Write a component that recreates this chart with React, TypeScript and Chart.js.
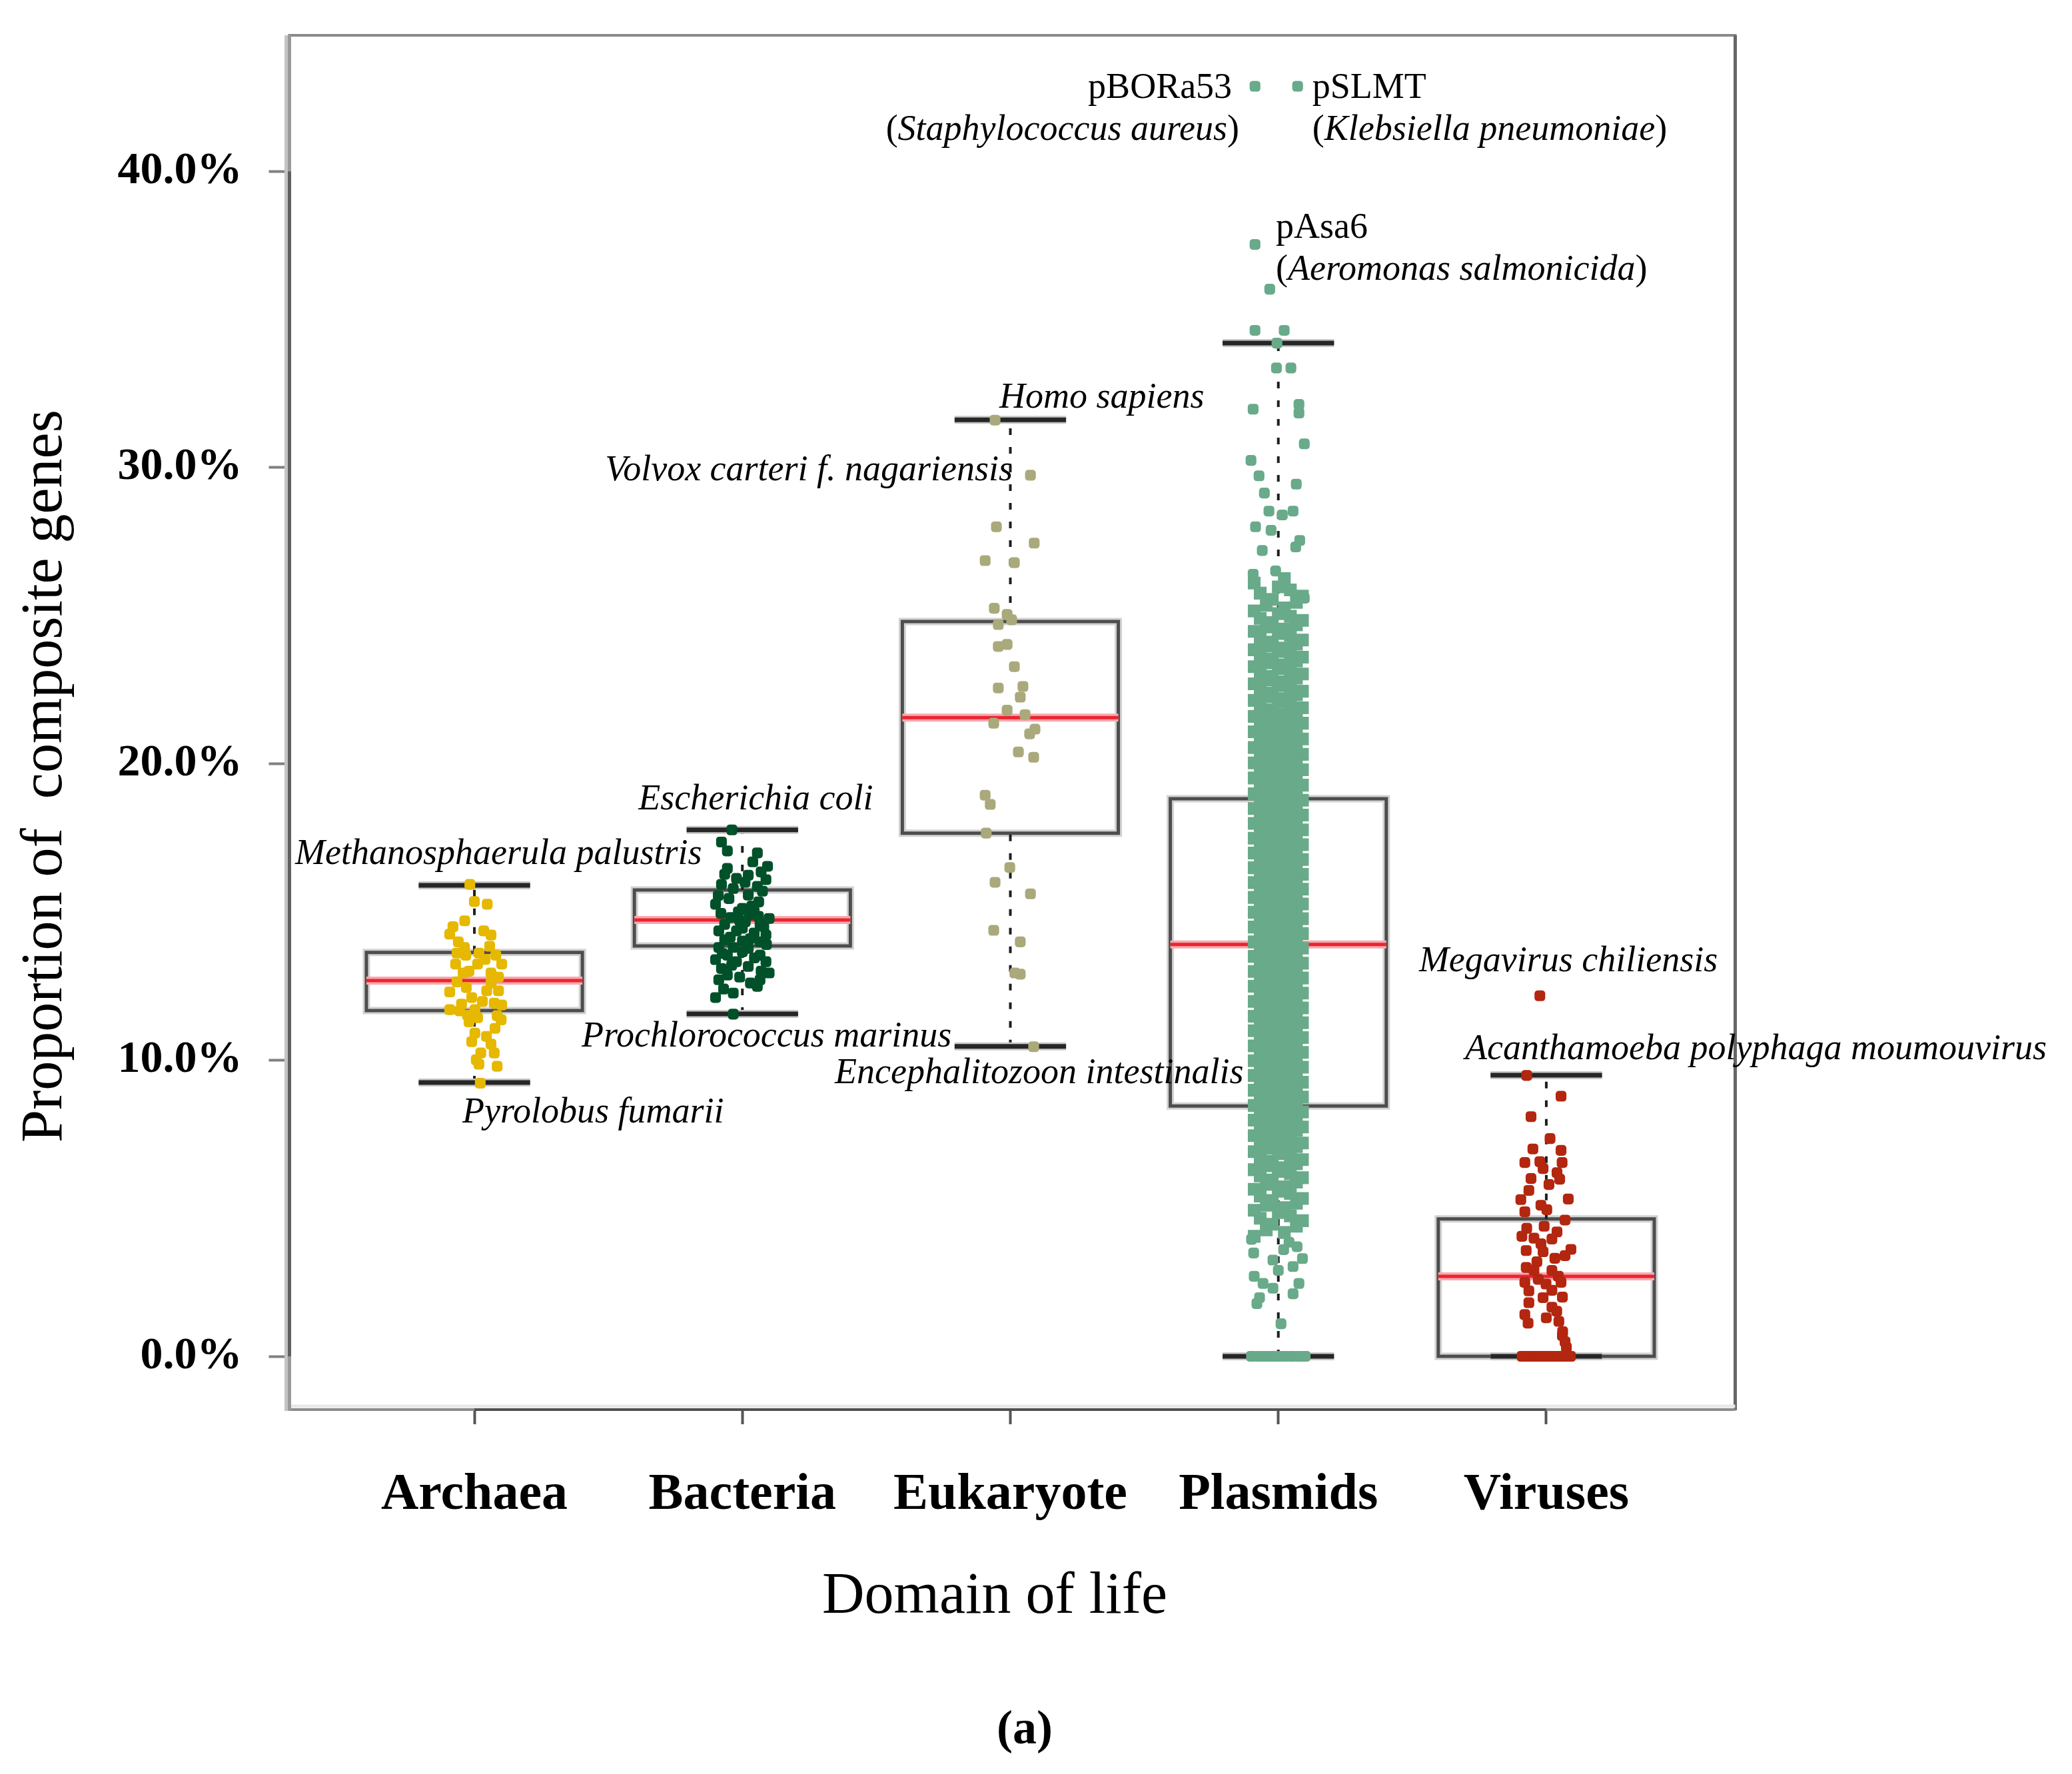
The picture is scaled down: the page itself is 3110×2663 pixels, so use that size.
import React, { useEffect, useRef } from 'react';
import { Chart, registerables } from 'chart.js';

Chart.register(...registerables);

// ---------------- data ----------------
const CATEGORIES = ['Archaea', 'Bacteria', 'Eukaryote', 'Plasmids', 'Viruses'];
const WHISKER_LOW = [9.24, 11.56, 10.46, 0, 0];
const Q1 = [11.67, 13.85, 17.66, 8.45, 0];
const MEDIAN = [12.68, 14.73, 21.56, 13.9, 2.7];
const Q3 = [13.63, 15.74, 24.8, 18.82, 4.64];
const WHISKER_HIGH = [15.9, 17.77, 31.61, 34.2, 9.49];
const Y_TICKS = [0, 10, 20, 30, 40];

// [value %, horizontal jitter in category units]
const ARCHAEA_POINTS: [number, number][] = [
  [15.93, -0.017], [15.35, 0], [15.26, 0.048], [14.7, -0.036], [14.5, -0.08], [14.25, -0.092], [14.36, 0.035],
  [14.22, 0.062], [13.99, -0.06], [13.8, -0.037], [13.84, 0.057], [13.61, -0.065], [13.54, -0.032], [13.61, 0.017],
  [13.54, 0.08], [13.4, 0.04], [13.24, -0.07], [13.24, 0.012], [13.24, 0.102], [13.0, -0.02], [12.94, -0.042],
  [12.94, 0.062], [12.8, 0.09], [12.64, -0.065], [12.6, 0.062], [12.45, -0.03], [12.3, -0.092], [12.34, 0.046],
  [12.34, 0.09], [12.11, -0.01], [11.98, 0.03], [11.89, -0.048], [11.92, 0.074], [11.86, 0.102], [11.7, -0.092],
  [11.66, -0.055], [11.7, 0.002], [11.52, -0.026], [11.5, 0.085], [11.43, 0.012], [11.36, 0.1], [11.29, -0.02],
  [11.07, 0.077], [10.91, 0.002], [10.8, 0.045], [10.62, -0.01], [10.54, 0.062], [10.24, 0.024], [10.24, 0.074],
  [10.01, 0.007], [9.86, 0.017], [9.79, 0.085], [9.22, 0.022],
];

const BACTERIA_POINTS: [number, number][] = [
  [17.77, -0.039], [17.36, -0.078], [17.06, -0.056], [16.99, 0.056], [16.69, 0.039], [16.54, 0.094], [16.47, -0.056],
  [16.35, 0.07], [16.27, -0.066], [16.24, 0.022], [16.13, -0.022], [16.09, 0.088], [16.0, 0.01], [15.93, -0.078],
  [15.86, 0.056], [15.79, -0.034], [15.7, 0.075], [15.57, 0.022], [15.55, -0.09], [15.45, -0.05], [15.34, 0.061],
  [15.26, -0.1], [15.2, 0.035], [15.12, 0], [15.03, 0.044], [15.0, -0.015], [14.95, -0.08], [14.9, 0.025],
  [14.85, 0.06], [14.81, -0.044], [14.78, 0.1], [14.7, -0.01], [14.67, 0.011], [14.58, -0.066], [14.58, 0.066],
  [14.5, 0.08], [14.45, 0.0], [14.36, -0.088], [14.36, -0.022], [14.29, 0.044], [14.22, 0.088], [14.15, -0.045],
  [14.1, 0.03], [14.06, -0.066], [14.02, 0], [13.99, 0.066], [13.9, 0.09], [13.8, -0.088], [13.8, -0.034],
  [13.77, 0.022], [13.65, 0.0], [13.6, -0.075], [13.54, -0.056], [13.54, 0.066], [13.45, 0.045], [13.39, -0.1],
  [13.32, -0.022], [13.32, 0.088], [13.2, -0.04], [13.16, 0.022], [13.09, -0.078], [13.0, 0.07], [12.94, 0.1],
  [12.87, -0.056], [12.8, -0.01], [12.71, -0.088], [12.71, 0.066], [12.6, 0.03], [12.49, 0.056], [12.4, -0.07],
  [12.26, -0.034], [12.11, -0.1], [11.55, -0.034],
];

const EUKARYOTE_POINTS: [number, number][] = [
  [31.6, -0.057], [29.74, 0.075], [28.0, -0.052], [27.45, 0.089], [26.86, -0.094], [26.79, 0.015], [25.25, -0.06],
  [25.04, -0.012], [24.7, -0.045], [24.86, 0.005], [23.96, -0.045], [24.03, -0.012], [23.28, 0.015], [22.56, -0.045],
  [22.61, 0.047], [22.25, 0.037], [21.81, -0.012], [21.66, 0.055], [21.37, -0.062], [21.17, 0.092], [21.01, 0.072],
  [20.4, 0.03], [20.22, 0.087], [18.94, -0.094], [18.63, -0.075], [17.66, -0.09], [16.5, -0.002], [16.0, -0.057],
  [15.61, 0.075], [14.38, -0.062], [13.99, 0.037], [12.94, 0.017], [12.9, 0.037], [10.45, 0.087],
];

const VIRUS_POINTS: [number, number][] = [
  [12.17, -0.024], [9.48, -0.073], [8.78, 0.055], [8.09, -0.057], [7.35, 0.014], [7.0, -0.05], [6.95, 0.055],
  [6.54, -0.08], [6.57, -0.024], [6.54, 0.059], [6.34, -0.012], [6.2, 0.04], [6.0, -0.057], [5.98, 0.05],
  [5.8, 0.01], [5.6, -0.065], [5.29, -0.095], [5.31, 0.082], [5.1, -0.02], [4.88, -0.08], [4.95, 0.002],
  [4.6, 0.07], [4.32, -0.073], [4.39, -0.008], [4.2, 0.04], [4.05, -0.091], [3.99, -0.046], [3.96, 0.021],
  [3.8, -0.02], [3.61, 0.092], [3.57, -0.075], [3.53, -0.012], [3.4, 0.07], [3.31, 0.032], [3.19, -0.035],
  [3.0, -0.075], [2.9, -0.046], [2.9, 0.021], [2.7, 0.045], [2.6, -0.03], [2.5, -0.08], [2.44, -0.001],
  [2.5, 0.055], [2.21, -0.065], [2.23, 0.021], [2.0, 0.06], [1.98, -0.012], [1.81, -0.065], [1.66, 0.021],
  [1.52, 0.039], [1.41, -0.08], [1.3, 0.0], [1.12, -0.068], [1.18, 0.047], [0.83, 0.061], [0.7, 0.06],
  [0.49, 0.07], [0.3, 0.075],
  [0, -0.09], [0, -0.07], [0, -0.05], [0, -0.03], [0, -0.01], [0, 0.01], [0, 0.03], [0, 0.05], [0, 0.07], [0, 0.09],
];

const PLASMID_SPARSE: [number, number][] = [
  [42.87, -0.087], [42.87, 0.072], [37.53, -0.087], [36.02, -0.032], [34.63, -0.087], [34.63, 0.022],
  [34.2, -0.005], [33.36, -0.007], [33.36, 0.047], [32.13, 0.077], [31.97, -0.094], [31.84, 0.077],
  [30.8, 0.097], [30.24, -0.102], [29.72, -0.072], [29.44, 0.067], [29.14, -0.052], [28.53, -0.035],
  [28.53, 0.055], [28.4, 0.015], [28.0, -0.085], [27.88, -0.027], [27.54, 0.08], [27.32, 0.065],
  [27.2, -0.06], [26.51, -0.01], [26.4, -0.094], [25.59, 0.097],
  [3.95, -0.1], [3.85, 0.04], [3.7, 0.07], [3.6, 0.02], [3.49, -0.092], [3.3, 0.09], [3.25, -0.02],
  [3.03, 0.055], [2.9, 0.0], [2.7, -0.09], [2.46, 0.077], [2.46, -0.057], [2.3, -0.02], [2.11, 0.055],
  [1.98, -0.07], [1.78, -0.08], [1.1, 0.01],
  [0, -0.1], [0, -0.075], [0, -0.05], [0, -0.025], [0, 0], [0, 0.025], [0, 0.05], [0, 0.075], [0, 0.1],
];

const PLASMID_DENSE: number[] = [
  4.05, 4.18, 4.27, 4.39, 4.46, 4.58, 4.66, 4.74, 4.85, 4.93,
  5.02, 5.1, 5.17, 5.26, 5.33, 5.41, 5.5, 5.57, 5.64, 5.72, 5.8, 5.88, 5.95,
  6.03, 6.09, 6.16, 6.24, 6.3, 6.37, 6.43, 6.5, 6.58, 6.64, 6.71, 6.78, 6.84, 6.91, 6.97,
  7.02, 7.08, 7.15, 7.2, 7.26, 7.33, 7.38, 7.45, 7.51, 7.56, 7.63, 7.69, 7.74, 7.8, 7.86, 7.92, 7.97,
  8.03, 8.08, 8.13, 8.19, 8.25, 8.3, 8.36, 8.42, 8.47, 8.53, 8.59, 8.64, 8.7, 8.75, 8.81, 8.87, 8.92, 8.98,
  9.02, 9.08, 9.14, 9.19, 9.25, 9.3, 9.37, 9.42, 9.48, 9.53, 9.58, 9.65, 9.7, 9.76, 9.81, 9.87, 9.93, 9.98,
  10.04, 10.09, 10.15, 10.2, 10.26, 10.31, 10.37, 10.43, 10.48, 10.54, 10.6, 10.65, 10.71, 10.76, 10.82, 10.88, 10.93, 10.99,
  11.03, 11.09, 11.14, 11.2, 11.26, 11.31, 11.37, 11.42, 11.48, 11.54, 11.59, 11.65, 11.71, 11.76, 11.82, 11.87, 11.93, 11.98,
  12.04, 12.1, 12.15, 12.21, 12.26, 12.32, 12.38, 12.43, 12.49, 12.54, 12.6, 12.66, 12.71, 12.77, 12.83, 12.88, 12.94, 12.99,
  13.05, 13.1, 13.16, 13.22, 13.27, 13.33, 13.38, 13.44, 13.5, 13.55, 13.61, 13.66, 13.72, 13.78, 13.83, 13.89, 13.94, 13.99,
  14.04, 14.1, 14.16, 14.21, 14.27, 14.32, 14.38, 14.44, 14.49, 14.55, 14.6, 14.66, 14.72, 14.77, 14.83, 14.88, 14.94, 14.99,
  15.05, 15.1, 15.16, 15.21, 15.27, 15.33, 15.38, 15.44, 15.49, 15.55, 15.61, 15.66, 15.72, 15.77, 15.83, 15.89, 15.94, 15.99,
  16.04, 16.1, 16.15, 16.21, 16.27, 16.32, 16.38, 16.43, 16.49, 16.55, 16.6, 16.66, 16.71, 16.77, 16.83, 16.88, 16.94, 16.99,
  17.05, 17.1, 17.16, 17.21, 17.27, 17.33, 17.38, 17.44, 17.49, 17.55, 17.61, 17.66, 17.72, 17.77, 17.83, 17.88, 17.94, 17.99,
  18.04, 18.1, 18.16, 18.21, 18.27, 18.32, 18.38, 18.44, 18.49, 18.55, 18.6, 18.66, 18.72, 18.77, 18.83, 18.88, 18.94, 18.99,
  19.05, 19.11, 19.17, 19.23, 19.28, 19.34, 19.4, 19.46, 19.52, 19.57, 19.63, 19.69, 19.75, 19.8, 19.86, 19.92, 19.97,
  20.03, 20.09, 20.15, 20.2, 20.26, 20.32, 20.38, 20.44, 20.49, 20.55, 20.61, 20.67, 20.72, 20.78, 20.84, 20.9, 20.96,
  21.02, 21.08, 21.13, 21.19, 21.25, 21.31, 21.37, 21.42, 21.48, 21.54, 21.6, 21.66, 21.71, 21.77, 21.83, 21.89, 21.95,
  22.02, 22.08, 22.14, 22.2, 22.27, 22.33, 22.39, 22.45, 22.52, 22.58, 22.64, 22.7, 22.77, 22.83, 22.89, 22.95,
  23.03, 23.09, 23.15, 23.22, 23.28, 23.34, 23.41, 23.47, 23.53, 23.6, 23.66, 23.72, 23.79, 23.85, 23.91, 23.97,
  24.04, 24.11, 24.18, 24.25, 24.33, 24.4, 24.47, 24.55, 24.62, 24.69, 24.77, 24.84, 24.91, 24.98,
  25.07, 25.16, 25.26, 25.35, 25.45, 25.55, 25.66, 25.76, 25.87, 25.97,
  26.1, 26.25,
];
// horizontal spread used (cyclically) for the dense plasmid column
const PLASMID_JITTER = [-0.09, 0.0225, -0.045, 0.0675, -0.0225, 0.09, -0.0675, 0.045, 0];

type Seg = [string, boolean]; // [text, italic]
const ANNOTATIONS: { segs: Seg[]; x: number; y: number; align: 'left' | 'right' }[] = [
  { segs: [['Methanosphaerula palustris', true]], x: -0.669, y: 16.62, align: 'left' },
  { segs: [['Escherichia coli', true]], x: 0.612, y: 18.46, align: 'left' },
  { segs: [['Pyrolobus fumarii', true]], x: -0.045, y: 7.89, align: 'left' },
  { segs: [['Prochlorococcus marinus', true]], x: 0.4, y: 10.46, align: 'left' },
  { segs: [['Encephalitozoon intestinalis', true]], x: 1.345, y: 9.21, align: 'left' },
  { segs: [['Volvox carteri f. nagariensis', true]], x: 2.009, y: 29.57, align: 'right' },
  { segs: [['Homo sapiens', true]], x: 1.959, y: 32.02, align: 'left' },
  { segs: [['Megavirus chiliensis', true]], x: 3.525, y: 13.0, align: 'left' },
  { segs: [['Acanthamoeba polyphaga moumouvirus', true]], x: 3.697, y: 10.03, align: 'left' },
  { segs: [['pBORa53', false]], x: 2.827, y: 42.47, align: 'right' },
  { segs: [['(', false], ['Staphylococcus aureus', true], [')', false]], x: 2.854, y: 41.06, align: 'right' },
  { segs: [['pSLMT', false]], x: 3.127, y: 42.47, align: 'left' },
  { segs: [['(', false], ['Klebsiella pneumoniae', true], [')', false]], x: 3.127, y: 41.06, align: 'left' },
  { segs: [['pAsa6', false]], x: 2.991, y: 37.75, align: 'left' },
  { segs: [['(', false], ['Aeromonas salmonicida', true], [')', false]], x: 2.991, y: 36.34, align: 'left' },
];

const Y_TITLE = 'Proportion of  composite genes';
const X_TITLE = 'Domain of life';
const PANEL_LABEL = '(a)';

// ---------------- styles / layout ----------------
const FONT = '"Liberation Serif", "Times New Roman", Times, serif';
const COLORS = ['#e6b800', '#00502a', '#a9a97b', '#68aa8a', '#b3260f'];
const W = 3110;
const H = 2663;
const X_MIN = -0.69;
const X_MAX = 4.705;
const Y_MIN = -1.776;
const Y_MAX = 44.59;
const BOX_HALF = 0.403;
const CAP_HALF = 0.208;

function line(ctx: CanvasRenderingContext2D, x1: number, y1: number, x2: number, y2: number, color: string, w: number) {
  ctx.beginPath();
  ctx.strokeStyle = color;
  ctx.lineWidth = w;
  ctx.moveTo(x1, y1);
  ctx.lineTo(x2, y2);
  ctx.stroke();
}

const overlayPlugin = {
  id: 'overlay',
  beforeDatasetsDraw(chart: any) {
    const { ctx, chartArea: a, scales } = chart;
    const xs = scales.x;
    const ys = scales.y;
    ctx.save();
    ctx.lineCap = 'butt';
    line(ctx, a.left - 2, a.top, a.right + 2, a.top, '#8a8a8a', 4);
    line(ctx, a.right, a.top, a.right, a.bottom + 2, '#666666', 5);
    line(ctx, a.left, a.bottom - 4, a.right, a.bottom - 4, '#e8e8e8', 5);
    line(ctx, a.left - 5, a.bottom + 1, a.right, a.bottom + 1, '#8c8c8c', 4);
    line(ctx, xs.getPixelForValue(0), a.bottom + 1, xs.getPixelForValue(CATEGORIES.length - 1), a.bottom + 1, '#505050', 4);
    line(ctx, a.left - 5, a.top, a.left - 5, a.bottom + 3, '#c4c4c4', 5);
    line(ctx, a.left, a.top, a.left, a.bottom + 3, '#9a9a9a', 5);
    line(ctx, a.left, ys.getPixelForValue(Y_TICKS[0]), a.left, ys.getPixelForValue(Y_TICKS[Y_TICKS.length - 1]), '#5f5f5f', 5);
    ctx.restore();
  },
  afterDraw(chart: any) {
    const { ctx, scales } = chart;
    const xs = scales.x;
    const ys = scales.y;
    ctx.save();
    ctx.fillStyle = '#000';
    ctx.textBaseline = 'alphabetic';
    ctx.textAlign = 'left';
    const fontFor = (italic: boolean) => `${italic ? 'italic ' : ''}54px ${FONT}`;
    for (const an of ANNOTATIONS) {
      const px = xs.getPixelForValue(an.x);
      const py = ys.getPixelForValue(an.y);
      const widths = an.segs.map(([t, it]) => {
        ctx.font = fontFor(it);
        return ctx.measureText(t).width;
      });
      const total = widths.reduce((s, v) => s + v, 0);
      let cx = an.align === 'right' ? px - total : px;
      an.segs.forEach(([t, it], k) => {
        ctx.font = fontFor(it);
        ctx.fillText(t, cx, py);
        cx += widths[k];
      });
    }
    // axis titles and panel label
    ctx.textAlign = 'center';
    ctx.font = `88px ${FONT}`;
    ctx.fillText(X_TITLE, 1493, 2421);
    ctx.save();
    ctx.translate(92, 1165);
    ctx.rotate(-Math.PI / 2);
    ctx.fillText(Y_TITLE, 0, 0);
    ctx.restore();
    ctx.font = `bold 72px ${FONT}`;
    ctx.fillText(PANEL_LABEL, 1538, 2617);
    ctx.restore();
  },
};

function toPts(pairs: [number, number][], idx: number) {
  return pairs.map(([v, o]) => ({ x: idx + o, y: v }));
}

function buildDatasets() {
  const idxP = CATEGORIES.indexOf('Plasmids');
  const groups = [
    toPts(ARCHAEA_POINTS, 0),
    toPts(BACTERIA_POINTS, 1),
    toPts(EUKARYOTE_POINTS, 2),
    toPts(PLASMID_SPARSE, idxP),
    toPts(VIRUS_POINTS, 4),
  ];
  const pointDs = groups.map((pts, i) => ({
    type: 'scatter',
    data: pts,
    showLine: false,
    pointStyle: 'rectRounded',
    pointRadius: 9.4,
    pointHoverRadius: 9.4,
    backgroundColor: COLORS[i],
    borderWidth: 0,
  }));
  const denseDs = {
    type: 'scatter',
    data: PLASMID_DENSE.map((v, i) => ({ x: idxP + PLASMID_JITTER[i % PLASMID_JITTER.length], y: v })),
    showLine: false,
    pointStyle: 'rect',
    pointRadius: 13.5,
    pointHoverRadius: 13.5,
    backgroundColor: COLORS[idxP],
    borderWidth: 0,
  };
  const gap = (i: number) => ({ x: i, y: null as any });
  const boxData: any[] = [];
  const medData: any[] = [];
  const capData: any[] = [];
  const whiskerData: any[] = [];
  CATEGORIES.forEach((_, i) => {
    boxData.push(
      { x: i - BOX_HALF, y: Q1[i] }, { x: i + BOX_HALF, y: Q1[i] }, { x: i + BOX_HALF, y: Q3[i] },
      { x: i - BOX_HALF, y: Q3[i] }, { x: i - BOX_HALF, y: Q1[i] }, gap(i),
    );
    medData.push({ x: i - BOX_HALF, y: MEDIAN[i] }, { x: i + BOX_HALF, y: MEDIAN[i] }, gap(i));
    capData.push(
      { x: i - CAP_HALF, y: WHISKER_HIGH[i] }, { x: i + CAP_HALF, y: WHISKER_HIGH[i] }, gap(i),
      { x: i - CAP_HALF, y: WHISKER_LOW[i] }, { x: i + CAP_HALF, y: WHISKER_LOW[i] }, gap(i),
    );
    whiskerData.push({ x: i, y: Q3[i] }, { x: i, y: WHISKER_HIGH[i] }, gap(i));
    if (Q1[i] > WHISKER_LOW[i]) whiskerData.push({ x: i, y: WHISKER_LOW[i] }, { x: i, y: Q1[i] }, gap(i));
  });
  const lineDs = (data: any[], color: string, width: number, cap: string, dash: number[] = []) => ({
    type: 'scatter',
    data,
    showLine: true,
    spanGaps: false,
    borderColor: color,
    backgroundColor: color,
    borderWidth: width,
    borderDash: dash,
    borderCapStyle: cap,
    borderJoinStyle: 'miter',
    pointRadius: 0,
    pointHoverRadius: 0,
    tension: 0,
    fill: false,
  });
  return [
    ...pointDs,
    denseDs,
    lineDs(medData, '#ea2430', 5, 'butt'),
    lineDs(medData, '#f7a9ae', 12, 'butt'),
    lineDs(capData, '#262626', 7, 'butt'),
    lineDs(capData, '#c8c8c8', 12, 'butt'),
    lineDs(whiskerData, '#1f1f1f', 4, 'butt', [10, 18]),
    lineDs(boxData, '#4d4d4d', 5, 'square'),
    lineDs(boxData, '#d2d2d2', 11, 'square'),
  ];
}

export default function App() {
  const ref = useRef<HTMLCanvasElement>(null);
  useEffect(() => {
    if (!ref.current) return;
    const chart = new Chart(ref.current, {
      type: 'scatter',
      data: { datasets: buildDatasets() as any },
      options: {
        animation: false,
        responsive: false,
        devicePixelRatio: 1,
        events: [],
        layout: { padding: { top: 53, right: W - 2604.5, bottom: 0, left: 0 } },
        plugins: { legend: { display: false }, tooltip: { enabled: false } },
        scales: {
          x: {
            type: 'linear',
            position: 'bottom',
            min: X_MIN,
            max: X_MAX,
            afterBuildTicks: (s: any) => {
              s.ticks = CATEGORIES.map((_, i) => ({ value: i }));
            },
            afterFit: (s: any) => {
              s.height = H - 2115;
              s.paddingLeft = 0;
              s.paddingRight = 0;
            },
            ticks: {
              autoSkip: false,
              maxRotation: 0,
              minRotation: 0,
              padding: 60,
              color: '#000',
              font: { family: FONT, size: 78, weight: 'bold' },
              callback: (v: any) => CATEGORIES[Number(v)] ?? '',
            },
            grid: { display: true, drawOnChartArea: false, drawTicks: true, tickLength: 23, tickColor: '#555555', tickWidth: 4 },
            border: { display: false },
          },
          y: {
            type: 'linear',
            position: 'left',
            min: Y_MIN,
            max: Y_MAX,
            afterBuildTicks: (s: any) => {
              s.ticks = Y_TICKS.map((v) => ({ value: v }));
            },
            afterFit: (s: any) => {
              s.width = 434.5;
              s.paddingTop = 0;
              s.paddingBottom = 0;
            },
            ticks: {
              padding: 40,
              color: '#000',
              font: { family: FONT, size: 68, weight: 'bold' },
              callback: (v: any) => `${Number(v).toFixed(1)}%`,
            },
            grid: { display: true, drawOnChartArea: false, drawTicks: true, tickLength: 31, tickColor: '#808080', tickWidth: 4 },
            border: { display: false },
          },
        },
      } as any,
      plugins: [overlayPlugin],
    });
    return () => chart.destroy();
  }, []);
  return (
    <div style={{ position: 'fixed', left: 0, top: 0, width: W, height: H, background: '#fff' }}>
      <canvas ref={ref} width={W} height={H} style={{ display: 'block', width: W, height: H }} />
    </div>
  );
}
